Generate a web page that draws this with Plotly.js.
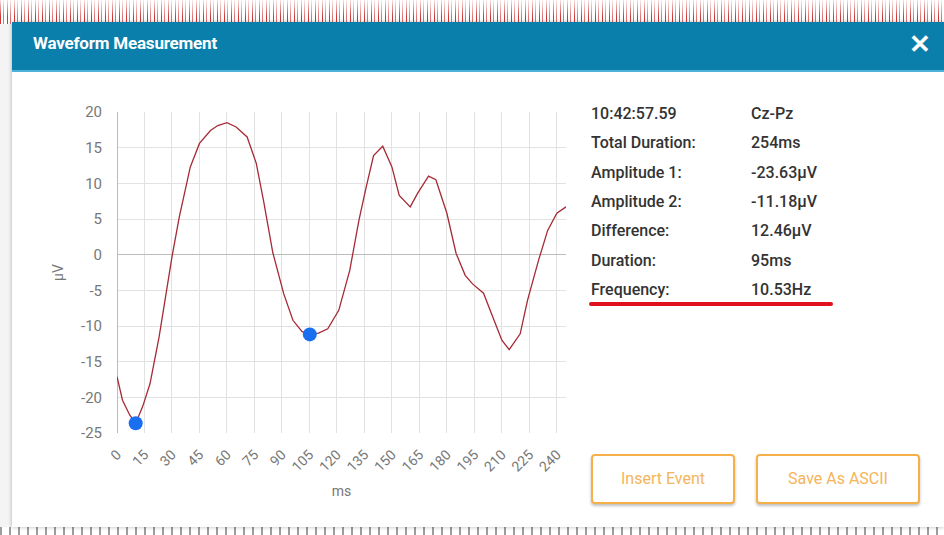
<!DOCTYPE html>
<html>
<head>
<meta charset="utf-8">
<script src="https://cdn.plot.ly/plotly-3.0.1.min.js"></script>
<style>
  html, body { margin:0; padding:0; width:944px; height:535px; overflow:hidden; background:#fff; font-family: Roboto, "Noto Sans", Arial, sans-serif; }
  #noiseTop { position:absolute; left:0; top:0; width:944px; height:24px;
    background: repeating-linear-gradient(90deg, rgba(200,20,20,0.85) 0px, rgba(200,20,20,0.85) 1px, rgba(255,255,255,0) 1px, rgba(255,255,255,0) 3px, rgba(200,20,20,0.6) 3px, rgba(200,20,20,0.6) 4px, rgba(255,255,255,0) 4px, rgba(255,255,255,0) 7px);
    -webkit-mask-image: linear-gradient(180deg, rgba(0,0,0,0.15) 0%, rgba(0,0,0,1) 70%, rgba(0,0,0,1) 100%); }
  #noiseBot { position:absolute; left:0; top:527px; width:944px; height:8px;
    background: repeating-linear-gradient(90deg, rgba(60,60,60,0.5) 0px, rgba(60,60,60,0.5) 2px, rgba(255,255,255,0) 2px, rgba(255,255,255,0) 9px); }
  #leftEdge { position:absolute; left:0; top:24px; width:12px; height:503px; background:#f4f4f4; border-right:1px solid #ddd; }
  #dialog { position:absolute; left:12px; top:22px; width:932px; height:505px; background:#fff; box-shadow: 0 0 4px rgba(0,0,0,0.3); }
  #header { position:absolute; left:0; top:0; width:932px; height:48px; background:#0b7fab; border-bottom:2px solid #4fb3d9; }
  #title { position:absolute; left:21px; top:11px; color:#fff; font-weight:700; font-size:17px; letter-spacing:-0.2px; }
  #close { position:absolute; left:897px; top:7px; color:#fff; font-size:26px; font-weight:700; }
  #plot { position:absolute; left:0px; top:80px; width:580px; height:440px; }
  .row { position:absolute; font-size:16px; font-weight:500; color:#333; }
  #uline { position:absolute; left:589px; top:302px; width:244px; height:4px; border-radius:2px; background:#e0101c; }
  .btn { position:absolute; top:454px; height:46px; border:2px solid #f5b04a; border-radius:4px; box-shadow:0 2px 3px rgba(0,0,0,0.25); color:#f5b45a; font-size:16px; text-align:center; line-height:46px; background:#fff; }
</style>
</head>
<body>
<div id="noiseTop"></div>
<div id="leftEdge"></div>
<div id="noiseBot"></div>
<div id="dialog">
  <div id="header"><div id="title">Waveform Measurement</div><div id="close">✕</div></div>
</div>
<div id="plot"></div>
<div id="info"></div>
<div id="uline"></div>
<div class="btn" style="left:591px;width:140px;">Insert Event</div>
<div class="btn" style="left:756px;width:160px;">Save As ASCII</div>
<script>
// Waveform samples (ms, µV)
const timeMs = [0,3,7,10.2,14,18,23,27,30,34,40,45,51,55,60,65,71,76,80,85,91,96,101,105.2,110,115,121,127,132,136,140,145,150,154,160,164,170,174,180,185,190,194,200,205,210,214,220,224,230,235,240,245];
const amplitude = [-17.1,-20.4,-22.5,-23.63,-21.3,-18.1,-11.5,-5,-0.3,5.3,12.3,15.6,17.4,18.1,18.5,17.9,16.5,12.8,7.5,0.3,-5.5,-9.2,-10.8,-11.18,-11.0,-10.4,-7.8,-2.2,4.8,9.5,13.9,15.2,12.3,8.3,6.7,8.6,11.0,10.5,5.8,0.2,-2.9,-4.1,-5.4,-8.7,-12.0,-13.3,-11.1,-6.4,-0.8,3.4,5.8,6.7];
// Measurement cursors
const cursorMs = [10.2, 105.2];
const cursorUv = [-23.63, -11.18];
const xTicks = [0,15,30,45,60,75,90,105,120,135,150,165,180,195,210,225,240];
const yTicks = [20,15,10,5,0,-5,-10,-15,-20,-25];
// Info panel
const infoLabels = ["10:42:57.59","Total Duration:","Amplitude 1:","Amplitude 2:","Difference:","Duration:","Frequency:"];
const infoValues = ["Cz-Pz","254ms","-23.63µV","-11.18µV","12.46µV","95ms","10.53Hz"];

const info = document.getElementById('info');
infoLabels.forEach((t,i)=>{
  const top = 104 + i*29.3;
  const a = document.createElement('div'); a.className='row'; a.style.left='591px'; a.style.top=top+'px'; a.textContent=t; info.appendChild(a);
  const b = document.createElement('div'); b.className='row'; b.style.left='751px'; b.style.top=top+'px'; b.textContent=infoValues[i]; info.appendChild(b);
});

const traces = [
  {x: timeMs, y: amplitude, type:'scatter', mode:'lines', line:{color:'#a52a35', width:1.3}, hoverinfo:'skip'},
  {x: cursorMs, y: cursorUv, type:'scatter', mode:'markers', marker:{color:'#1a6ff0', size:14}, hoverinfo:'skip'}
];
const layout = {
  width:580, height:440,
  margin:{l:117, r:14, t:31.7, b:87.3},
  paper_bgcolor:'rgba(0,0,0,0)', plot_bgcolor:'#fff',
  showlegend:false,
  font:{family:'Roboto, Arial, sans-serif', color:'#777', size:14},
  xaxis:{range:[0,245], tickvals:xTicks, ticktext:xTicks.map(String), tickangle:-45,
         showgrid:true, gridcolor:'#e2e2e2', zeroline:true, zerolinecolor:'#bbb', zerolinewidth:1,
         showline:false, ticks:'outside', ticklen:7, tickcolor:'rgba(0,0,0,0)', tickfont:{size:14, color:'#777'},
         title:{text:'ms', font:{size:14, color:'#777'}, standoff:12}},
  yaxis:{range:[-25,20], tickvals:yTicks, ticktext:yTicks.map(String),
         showgrid:true, gridcolor:'#e2e2e2', zeroline:true, zerolinecolor:'#bbb', zerolinewidth:1,
         showline:false, ticks:'outside', ticklen:11, tickcolor:'rgba(0,0,0,0)', tickfont:{size:15, color:'#777'},
         title:{text:'µV', font:{size:14, color:'#777'}, standoff:14}}
};
Plotly.newPlot('plot', traces, layout, {displayModeBar:false, staticPlot:true});
</script>
</body>
</html>
